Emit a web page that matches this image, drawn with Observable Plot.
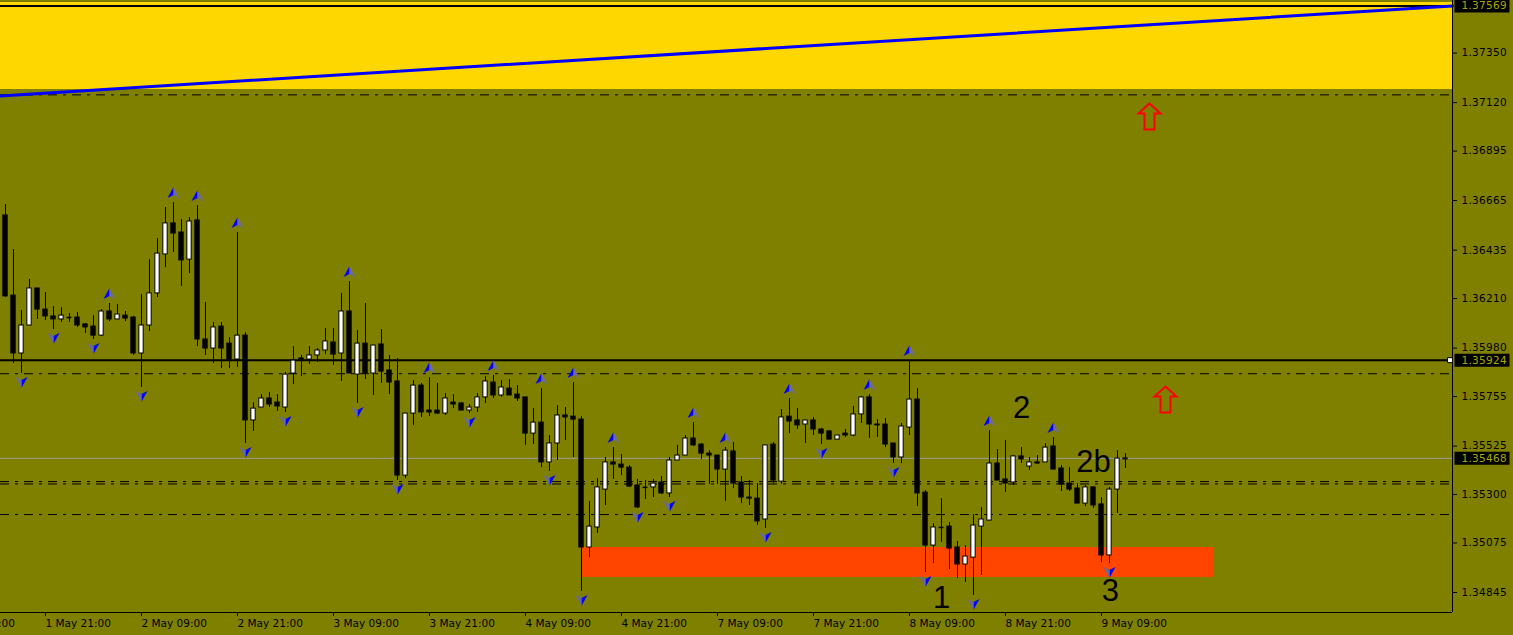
<!DOCTYPE html>
<html><head><meta charset="utf-8">
<script src="https://cdn.jsdelivr.net/npm/d3@7"></script>
<script src="https://cdn.jsdelivr.net/npm/@observablehq/plot@0.6"></script>
<style>
html,body{margin:0;padding:0;background:#808000;overflow:hidden}
</style></head><body><div id="chart"></div>
<script>
// Hourly candles, 1 May 16:00 .. 9 May 12:00 (bar index 0..140)
const opens = [1.36596,1.36224,1.35955,1.36085,1.36257,1.36159,1.36127,1.36113,1.36122,1.36122,
1.36090,1.36080,1.36038,1.36150,1.36113,1.36131,1.36122,1.35955,1.36085,1.36234,
1.36415,1.36559,1.36517,1.36391,1.36573,1.36020,1.35978,1.36080,1.36001,1.35927,
1.36038,1.35644,1.35704,1.35746,1.35727,1.35704,1.35862,1.35932,1.35927,1.35946,
1.35969,1.36006,1.35955,1.36150,1.35857,1.36001,1.35862,1.35997,1.35876,1.35825,
1.35388,1.35676,1.35806,1.35690,1.35690,1.35676,1.35727,1.35723,1.35690,1.35704,
1.35751,1.35820,1.35760,1.35792,1.35764,1.35751,1.35583,1.35634,1.35449,1.35537,
1.35667,1.35662,1.35648,1.35054,1.35147,1.35323,1.35449,1.35439,1.35425,1.35342,
1.35333,1.35333,1.35356,1.35305,1.35458,1.35481,1.35560,1.35532,1.35490,1.35481,
1.35416,1.35500,1.35356,1.35286,1.35281,1.35184,1.35532,1.35360,1.35662,1.35644,
1.35625,1.35644,1.35602,1.35593,1.35555,1.35583,1.35574,1.35672,1.35751,1.35625,
1.35625,1.35537,1.35472,1.35611,1.35741,1.35309,1.35063,1.35147,1.35151,1.35054,
1.34975,1.35007,1.35151,1.35179,1.35444,1.35370,1.35356,1.35477,1.35430,1.35449,
1.35449,1.35523,1.35421,1.35351,1.35328,1.35258,1.35333,1.35254,1.35017,1.35323,
1.35463];
const highs = [1.36647,1.36438,1.36155,1.36299,1.36257,1.36238,1.36173,1.36168,1.36141,1.36145,
1.36094,1.36131,1.36159,1.36187,1.36182,1.36150,1.36127,1.36229,1.36391,1.36489,
1.36633,1.36656,1.36577,1.36586,1.36642,1.36192,1.36099,1.36099,1.36029,1.36517,
1.36052,1.35727,1.35764,1.35774,1.35764,1.35867,1.35987,1.35946,1.35987,1.35978,
1.36071,1.36071,1.36234,1.36289,1.36062,1.36187,1.35992,1.36066,1.35946,1.35932,
1.35676,1.35829,1.35816,1.35843,1.35816,1.35769,1.35764,1.35727,1.35718,1.35769,
1.35848,1.35853,1.35829,1.35834,1.35806,1.35751,1.35699,1.35792,1.35574,1.35713,
1.35704,1.35820,1.35662,1.35268,1.35374,1.35472,1.35518,1.35486,1.35435,1.35370,
1.35365,1.35370,1.35384,1.35472,1.35528,1.35574,1.35634,1.35537,1.35504,1.35481,
1.35518,1.35542,1.35384,1.35365,1.35351,1.35528,1.35542,1.35695,1.35746,1.35699,
1.35644,1.35658,1.35607,1.35597,1.35574,1.35602,1.35709,1.35755,1.35764,1.35648,
1.35653,1.35537,1.35630,1.35922,1.35792,1.35319,1.35165,1.35281,1.35170,1.35082,
1.35063,1.35207,1.35240,1.35597,1.35509,1.35551,1.35481,1.35518,1.35472,1.35481,
1.35537,1.35565,1.35435,1.35425,1.35351,1.35342,1.35333,1.35286,1.35333,1.35504,
1.35490];
const lows = [1.36215,1.35908,1.35862,1.36085,1.36113,1.36108,1.36066,1.36099,1.36099,1.36076,
1.36048,1.36020,1.36034,1.36103,1.36113,1.36103,1.35946,1.35797,1.36057,1.36215,
1.36354,1.36424,1.36266,1.36326,1.35987,1.35946,1.35908,1.35885,1.35885,1.35890,
1.35537,1.35593,1.35704,1.35704,1.35686,1.35681,1.35811,1.35848,1.35904,1.35913,
1.35950,1.35899,1.35825,1.35862,1.35723,1.35834,1.35760,1.35816,1.35764,1.35365,
1.35374,1.35621,1.35658,1.35662,1.35672,1.35667,1.35699,1.35690,1.35676,1.35681,
1.35723,1.35746,1.35751,1.35760,1.35732,1.35528,1.35532,1.35425,1.35407,1.35458,
1.35551,1.35472,1.34850,1.35007,1.35119,1.35249,1.35370,1.35388,1.35333,1.35235,
1.35277,1.35286,1.35300,1.35286,1.35458,1.35481,1.35523,1.35463,1.35347,1.35347,
1.35268,1.35328,1.35258,1.35249,1.35156,1.35142,1.35351,1.35347,1.35583,1.35602,
1.35537,1.35574,1.35532,1.35555,1.35555,1.35565,1.35569,1.35630,1.35560,1.35565,
1.35518,1.35444,1.35444,1.35574,1.35244,1.34938,1.34980,1.35077,1.34952,1.34910,
1.34891,1.34831,1.34924,1.35179,1.35365,1.35309,1.35342,1.35444,1.35412,1.35439,
1.35449,1.35416,1.35314,1.35314,1.35258,1.35244,1.35235,1.34984,1.34980,1.35212,
1.35421];
const closes = [1.36220,1.35955,1.36085,1.36257,1.36159,1.36127,1.36113,1.36131,1.36122,1.36085,
1.36076,1.36038,1.36150,1.36113,1.36136,1.36117,1.35955,1.36085,1.36234,1.36419,
1.36559,1.36512,1.36387,1.36568,1.36020,1.35978,1.36076,1.35978,1.35927,1.36038,
1.35644,1.35699,1.35746,1.35718,1.35709,1.35857,1.35922,1.35927,1.35946,1.35969,
1.36011,1.35950,1.36150,1.35862,1.36001,1.35862,1.35992,1.35871,1.35820,1.35388,
1.35676,1.35806,1.35681,1.35681,1.35676,1.35746,1.35718,1.35690,1.35704,1.35751,
1.35825,1.35760,1.35797,1.35760,1.35746,1.35583,1.35634,1.35449,1.35537,1.35667,
1.35658,1.35648,1.35054,1.35151,1.35333,1.35449,1.35439,1.35425,1.35337,1.35240,
1.35333,1.35351,1.35305,1.35458,1.35481,1.35560,1.35528,1.35490,1.35481,1.35416,
1.35504,1.35351,1.35286,1.35281,1.35175,1.35528,1.35365,1.35658,1.35639,1.35621,
1.35644,1.35602,1.35583,1.35555,1.35574,1.35574,1.35672,1.35751,1.35625,1.35621,
1.35532,1.35472,1.35616,1.35741,1.35305,1.35063,1.35147,1.35147,1.35049,1.34975,
1.35012,1.35156,1.35184,1.35444,1.35365,1.35351,1.35477,1.35463,1.35449,1.35444,
1.35518,1.35416,1.35347,1.35323,1.35258,1.35333,1.35249,1.35017,1.35323,1.35467,
1.35468];

// Fractal markers (bar indices)
const fractalUp = [13,21,24,29,43,53,61,67,71,76,86,90,98,108,113,123,131];
const fractalDown = [2,6,11,17,30,35,44,49,58,68,72,79,83,95,102,111,115,121,138];

// Time axis
const xTickIdx = [-7,5,17,29,41,53,65,77,89,101,113,125,137];
const xTickLabels = ["1 May 09:00","1 May 21:00","2 May 09:00","2 May 21:00","3 May 09:00","3 May 21:00",
  "4 May 09:00","4 May 21:00","7 May 09:00","7 May 21:00","8 May 09:00","8 May 21:00","9 May 09:00"];
// Price axis
const yTicks = [1.37350,1.37120,1.36895,1.36665,1.36435,1.36210,1.35980,1.35755,1.35525,1.35300,1.35075,1.34845];
const xDomain = [-0.625, 180.875];
const yDomain = [1.347521, 1.375943];

// Objects on chart
const yellowZone = [{p1: 1.37181, p2: 1.37585}];
const redZone = [{i1: 72, i2: 151, p1: 1.34915, p2: 1.35054}];
const solidLevels = [1.37569, 1.35924];
const dashDotLevels = [1.37156, 1.35861, 1.35360, 1.35349, 1.35207];
const bidPrice = 1.35468;
const trendLine = [{i: -0.625, p: 1.37151}, {i: 180.875, p: 1.37569}];
const redArrows = [{i: 143, p: 1.37056}, {i: 145, p: 1.35741}];
const waveLabels = [{i: 117, p: 1.34817, t: "1"}, {i: 127, p: 1.35700, t: "2"}, {i: 136, p: 1.35451, t: "2b"}, {i: 138.1, p: 1.34852, t: "3"}];
const priceLabels = [1.37569, 1.35924, 1.35468];

const bars = opens.map((o, i) => ({i, o, h: highs[i], l: lows[i], c: closes[i]}));
const bodies = bars.filter(d => Math.abs(d.o - d.c) >= 0.00003);
const dojis = bars.filter(d => Math.abs(d.o - d.c) < 0.00003);

const sym = (pts) => ({draw(ctx) { ctx.moveTo(pts[0][0], pts[0][1]); for (const p of pts.slice(1)) ctx.lineTo(p[0], p[1]); ctx.closePath(); }});
const upL = sym([[0,-5.5],[-6,5.5],[0,2.5]]);
const upR = sym([[0,-5.5],[6,5.5],[0,2.5]]);
const dnL = sym([[0,5.5],[-6,-5.5],[0,-2.5]]);
const dnR = sym([[0,5.5],[6,-5.5],[0,-2.5]]);
const blockArrow = sym([[0,-13],[11,-3],[5,-3],[5,13],[-5,13],[-5,-3],[-11,-3]]);
const labelBox = sym([[2,-6.5],[57,-6.5],[57,6.5],[2,6.5]]);

const fmt = d => d.toFixed(5);
const chart = Plot.plot({
  width: 1513, height: 635,
  marginLeft: 0, marginRight: 61, marginTop: 0, marginBottom: 23,
  x: {domain: xDomain, axis: null},
  y: {domain: yDomain, axis: null},
  style: {background: "#808000", fontFamily: "DejaVu Sans", color: "black"},
  marks: [
    Plot.rect(yellowZone, {x1: xDomain[0], x2: xDomain[1], y1: "p1", y2: "p2", fill: "#FFD700"}),
    Plot.rect(redZone, {x1: "i1", x2: "i2", y1: "p1", y2: "p2", fill: "#FF4500"}),
    Plot.ruleY(dashDotLevels, {stroke: "black", strokeWidth: 1, strokeDasharray: "9,6,3,6"}),
    Plot.ruleY([bidPrice], {stroke: "#9a9a9a", strokeWidth: 1}),
    Plot.ruleY(solidLevels, {stroke: "black", strokeWidth: 2}),
    Plot.line(trendLine, {x: "i", y: "p", stroke: "#0000FF", strokeWidth: 3}),
    Plot.ruleX(bars, {x: "i", y1: "l", y2: "h", stroke: "black", strokeWidth: 1}),
    Plot.rect(bodies, {x1: d => d.i - 0.27, x2: d => d.i + 0.27, y1: "o", y2: "c",
      fill: d => d.c > d.o ? "white" : "black", stroke: "black", strokeWidth: 1}),
    Plot.ruleY(dojis, {y: "c", x1: d => d.i - 0.3, x2: d => d.i + 0.3, stroke: "black", strokeWidth: 1.5}),
    Plot.dot(fractalUp, {x: d => d, y: d => highs[d], symbol: upL, fill: "#0000FF", stroke: "none", dy: -10}),
    Plot.dot(fractalUp, {x: d => d, y: d => highs[d], symbol: upR, fill: "#6a6a9a", stroke: "none", dy: -10}),
    Plot.dot(fractalDown, {x: d => d, y: d => lows[d], symbol: dnR, fill: "#0000FF", stroke: "none", dy: 9}),
    Plot.dot(fractalDown, {x: d => d, y: d => lows[d], symbol: dnL, fill: "#6a6a9a", stroke: "none", dy: 9}),
    Plot.dot(redArrows, {x: "i", y: "p", symbol: blockArrow, fill: "none", stroke: "#FF0000", strokeWidth: 2}),
    Plot.text(waveLabels, {x: "i", y: "p", text: "t", fontSize: 31, fontFamily: "Liberation Sans, Arial, sans-serif", fill: "black"}),
    Plot.ruleX([xDomain[1]], {stroke: "black", strokeWidth: 1}),
    Plot.ruleY([yDomain[0]], {stroke: "black", strokeWidth: 1}),
    Plot.dot([solidLevels[1]], {y: d => d, frameAnchor: "right", dx: -2.5, symbol: "square", r: 2.8, fill: "white", stroke: "black", strokeWidth: 1}),
    Plot.axisX({ticks: xTickIdx, tickFormat: d => xTickLabels[xTickIdx.indexOf(d)], tickSize: 4, tickPadding: 3,
      textAnchor: "start", dx: 0, fontSize: 10.5, label: null, stroke: "black", fill: "black"}),
    Plot.axisY({anchor: "right", ticks: yTicks, tickFormat: fmt, tickSize: 4, tickPadding: 5,
      textAnchor: "start", fontSize: 10.5, label: null, stroke: "black", fill: "black"}),
    Plot.dot(priceLabels, {y: d => d, frameAnchor: "right", symbol: labelBox, fill: "black", stroke: "none"}),
    Plot.text(priceLabels, {y: d => d, text: fmt, frameAnchor: "right", textAnchor: "start", dx: 9, fill: "#a8a800", fontSize: 10.5})
  ]
});
document.getElementById("chart").appendChild(chart);
d3.select(chart).selectAll("text").filter(function() { return /^1\.3\d{4}$/.test(this.textContent); }).attr("letter-spacing", "0.3px");
</script></body></html>
